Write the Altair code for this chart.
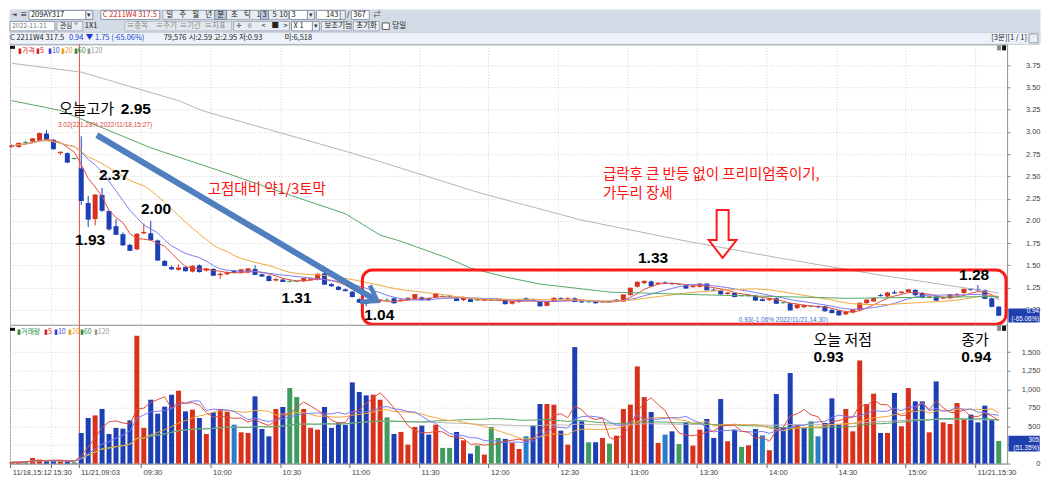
import json
import altair as alt
import pandas as pd

# ------------------------------------------------------------------ data
# 3-minute bars: 11/18 15:12 .. 15:39 (10 bars) then 11/21 09:03 .. 15:39 (133 bars)
opens = [2.83, 2.83, 2.88, 2.89, 2.90, 2.98, 2.91, 2.76, 2.76, 2.70,
         2.59, 2.20, 2.02, 2.29, 2.11, 1.94, 1.85, 1.73, 1.68, 1.86,
         1.86, 1.78, 1.55, 1.48, 1.45, 1.48, 1.43, 1.50, 1.44, 1.46,
         1.39, 1.40, 1.44, 1.42, 1.42, 1.46, 1.40, 1.38, 1.33, 1.34,
         1.32, 1.32, 1.32, 1.34, 1.34, 1.41, 1.29, 1.26, 1.23, 1.205,
         1.12, 1.10, 1.09, 1.10, 1.11, 1.13, 1.10, 1.11, 1.12, 1.14,
         1.13, 1.14, 1.15, 1.155, 1.13, 1.11, 1.12, 1.11, 1.105, 1.11,
         1.11, 1.11, 1.07, 1.09, 1.13, 1.115, 1.093, 1.045, 1.093, 1.13,
         1.12, 1.13, 1.095, 1.09, 1.093, 1.087, 1.09, 1.10, 1.093, 1.168,
         1.26, 1.30, 1.32, 1.29, 1.305, 1.30, 1.29, 1.28, 1.255, 1.26,
         1.295, 1.225, 1.22, 1.18, 1.19, 1.16, 1.155, 1.16, 1.12, 1.11,
         1.13, 1.08, 1.075, 1.02, 1.03, 1.04, 1.04, 1.04, 1.00, 0.99,
         0.95, 0.97, 1.00, 1.075, 1.095, 1.165, 1.15, 1.195, 1.19, 1.20,
         1.225, 1.19, 1.14, 1.15, 1.13, 1.13, 1.165, 1.19, 1.235, 1.23,
         1.224, 1.13, 1.037]
highs = [2.86, 2.88, 2.90, 2.93, 2.99, 3.02, 2.92, 2.78, 2.77, 2.71,
         2.95, 2.28, 2.30, 2.37, 2.12, 2.02, 1.87, 1.74, 1.86, 1.97,
         2.00, 1.79, 1.56, 1.50, 1.51, 1.49, 1.50, 1.51, 1.47, 1.47,
         1.42, 1.43, 1.45, 1.46, 1.47, 1.50, 1.41, 1.39, 1.36, 1.35,
         1.34, 1.33, 1.36, 1.36, 1.41, 1.42, 1.30, 1.27, 1.24, 1.21,
         1.13, 1.11, 1.11, 1.12, 1.13, 1.14, 1.12, 1.14, 1.18, 1.15,
         1.14, 1.19, 1.17, 1.17, 1.14, 1.14, 1.13, 1.13, 1.12, 1.13,
         1.12, 1.12, 1.10, 1.12, 1.14, 1.12, 1.10, 1.10, 1.14, 1.14,
         1.14, 1.14, 1.10, 1.10, 1.10, 1.10, 1.10, 1.12, 1.17, 1.25,
         1.32, 1.33, 1.33, 1.31, 1.32, 1.31, 1.30, 1.29, 1.28, 1.30,
         1.30, 1.24, 1.23, 1.20, 1.20, 1.17, 1.17, 1.17, 1.13, 1.13,
         1.14, 1.09, 1.08, 1.06, 1.06, 1.05, 1.05, 1.05, 1.01, 1.00,
         0.98, 1.01, 1.08, 1.12, 1.14, 1.18, 1.20, 1.22, 1.21, 1.23,
         1.23, 1.20, 1.16, 1.16, 1.15, 1.18, 1.19, 1.24, 1.24, 1.28,
         1.23, 1.14, 1.04]
lows = [2.82, 2.82, 2.87, 2.88, 2.89, 2.91, 2.80, 2.74, 2.65, 2.69,
        2.18, 1.93, 1.95, 2.10, 1.89, 1.84, 1.72, 1.66, 1.67, 1.85,
        1.78, 1.55, 1.49, 1.45, 1.44, 1.43, 1.42, 1.42, 1.43, 1.38,
        1.35, 1.39, 1.41, 1.41, 1.41, 1.39, 1.37, 1.32, 1.32, 1.315,
        1.31, 1.315, 1.315, 1.33, 1.33, 1.28, 1.26, 1.22, 1.21, 1.14,
        1.08, 1.04, 1.08, 1.09, 1.10, 1.07, 1.09, 1.10, 1.11, 1.11,
        1.10, 1.13, 1.14, 1.14, 1.10, 1.10, 1.09, 1.10, 1.10, 1.10,
        1.10, 1.06, 1.06, 1.08, 1.10, 1.10, 1.04, 1.04, 1.09, 1.12,
        1.11, 1.09, 1.08, 1.08, 1.07, 1.08, 1.08, 1.09, 1.09, 1.16,
        1.25, 1.29, 1.26, 1.28, 1.29, 1.28, 1.28, 1.24, 1.25, 1.25,
        1.22, 1.21, 1.17, 1.17, 1.14, 1.15, 1.15, 1.10, 1.10, 1.10,
        1.07, 1.07, 0.99, 1.01, 1.02, 1.03, 1.02, 0.98, 0.96, 0.93,
        0.94, 0.96, 0.99, 1.07, 1.09, 1.15, 1.14, 1.18, 1.18, 1.19,
        1.16, 1.13, 1.13, 1.10, 1.12, 1.12, 1.16, 1.18, 1.21, 1.21,
        1.12, 1.03, 0.94]
closes = [2.84, 2.87, 2.88, 2.92, 2.98, 2.92, 2.81, 2.77, 2.66, 2.70,
          2.23, 2.02, 2.29, 2.12, 1.91, 1.85, 1.73, 1.67, 1.85, 1.87,
          1.79, 1.56, 1.50, 1.46, 1.47, 1.44, 1.49, 1.43, 1.46, 1.39,
          1.40, 1.42, 1.42, 1.45, 1.46, 1.40, 1.38, 1.33, 1.34, 1.32,
          1.32, 1.32, 1.35, 1.35, 1.40, 1.29, 1.27, 1.23, 1.215, 1.15,
          1.087, 1.075, 1.10, 1.11, 1.11, 1.08, 1.11, 1.13, 1.17, 1.12,
          1.115, 1.18, 1.15, 1.155, 1.105, 1.13, 1.095, 1.11, 1.115, 1.11,
          1.11, 1.07, 1.09, 1.11, 1.115, 1.11, 1.045, 1.09, 1.13, 1.125,
          1.125, 1.093, 1.09, 1.09, 1.08, 1.093, 1.09, 1.11, 1.168, 1.243,
          1.31, 1.32, 1.27, 1.30, 1.30, 1.295, 1.29, 1.245, 1.265, 1.29,
          1.225, 1.22, 1.18, 1.19, 1.15, 1.16, 1.165, 1.11, 1.105, 1.12,
          1.075, 1.08, 1.00, 1.055, 1.05, 1.04, 1.035, 0.99, 0.97, 0.945,
          0.97, 1.00, 1.075, 1.11, 1.13, 1.16, 1.19, 1.19, 1.20, 1.225,
          1.17, 1.14, 1.145, 1.11, 1.135, 1.17, 1.17, 1.23, 1.23, 1.225,
          1.13, 1.04, 0.94]
volumes = [18, 18, 31, 76, 54, 31, 40, 31, 31, 18,
           412, 614, 649, 735, 399, 480, 470, 582, 1720, 480,
           860, 672, 766, 927, 981, 703, 726, 614, 399, 690,
           735, 699, 524, 421, 412, 905, 466, 367, 735, 762,
           1017, 896, 735, 480, 457, 762, 480, 555, 520, 1093,
           963, 918, 927, 860, 622, 399, 426, 255, 493, 511,
           390, 524, 211, 211, 426, 313, 134, 242, 121, 493,
           345, 332, 278, 197, 367, 511, 802, 802, 793, 443,
           255, 1568, 569, 287, 287, 345, 269, 376, 735, 793,
           1308, 896, 694, 278, 390, 434, 264, 555, 242, 457,
           600, 345, 869, 300, 457, 224, 246, 466, 380, 180,
           936, 488, 1219, 524, 480, 569, 367, 547, 878, 524,
           735, 434, 1388, 802, 941, 412, 412, 950, 502, 1017,
           838, 838, 421, 1106, 555, 533, 816, 600, 659, 555,
           780, 600, 305]
# volume bar colour class: u = up (red), d = down (blue), n = flat (green), s = steel blue
vol_dir = list("uunuuddudn" "dduddddduu" "ddddududud" "uusuudddud" "nnuuuddddd"
               "dduunduuud" "dunndudnun" "nduusdduud" "uddndunuuu" "uudusdnduu"
               "dddudnudsu" "dddudnsddd" "uuuuududuu" "dduduuuudd" "ddn")

tick_idx = [0, 6, 10, 19, 29, 39, 49, 59, 69, 79, 89, 99, 109, 119, 129, 139]
tick_labels = ["11/18,15:12", "15:30", "11/21,09:03", "09:30", "10:00", "10:30",
               "11:00", "11:30", "12:00", "12:30", "13:00", "13:30", "14:00",
               "14:30", "15:00", "11/21,15:30"]
session_break = [9.74]

# long moving averages (their history is off screen)
ma60_idx = [0, 7, 20, 30, 40, 48, 53, 56, 62.8, 66, 71, 76, 86, 99, 110, 120, 130, 142]
ma60_val = [3.35, 3.24, 2.82, 2.56, 2.29, 2.08, 1.84, 1.77, 1.58, 1.47, 1.37, 1.29, 1.20,
            1.17, 1.15, 1.13, 1.14, 1.15]
ma120_idx = [0, 10, 24, 27.3, 49, 53.2, 67.5, 81.9, 96.2, 110.6, 125, 142]
ma120_val = [3.77, 3.67, 3.35, 3.24, 2.76, 2.66, 2.31, 2.01, 1.785, 1.58, 1.39, 1.19]

price_ticks = [1.0, 1.25, 1.5, 1.75, 2.0, 2.25, 2.5, 2.75, 3.0, 3.25, 3.5, 3.75]
vol_ticks = [0, 250, 500, 750, 1000, 1250, 1500]

# annotations (anchored at bar index / price)
num_text = ["2.95", "2.37", "2.00", "1.93", "1.31", "1.04", "1.33", "1.28"]
num_i = [15.7, 12.55, 18.6, 9.1, 38.8, 50.7, 90.1, 136.3]
num_p = [3.259, 2.513, 2.138, 1.785, 1.135, 0.944, 1.583, 1.392]
red_text = ["고점대비 약1/3토막", "급락후 큰 반등 없이 프리미엄죽이기,", "가두리 장세"]
red_i = [28.2, 85.05, 85.05]
red_p = [2.345, 2.515, 2.298]
vol_note_text = ["오늘 저점", "종가"]
vol_note_i = [115.35, 136.6]
vol_num_text = ["0.93", "0.94"]

# ------------------------------------------------------------------ style
C_UP, C_DN, C_EQ, C_ST = "#d8321d", "#1c3fb4", "#3f9b60", "#2a7dcb"
MA_C = {"5": "#e34b3f", "10": "#7b7bf2", "20": "#f1a83c", "60": "#55a866", "120": "#b5b5b5"}
GRID = "#d2d2d2"
FK = "Noto Sans CJK KR"
FN = "Liberation Sans"
W, H_HDR, H_P, H_V = 999, 35, 281, 139

xs = alt.Scale(domain=[-0.25, 143.2], nice=False, zero=False)
ps = alt.Scale(domain=[0.832, 3.982], nice=False, zero=False)
vs = alt.Scale(domain=[0, 1868], nice=False, zero=False)

tick_vals = [max(t - 0.4, -0.2) for t in tick_idx]
lab_expr = "%s[indexof(%s, round(datum.value + 0.4))]" % (json.dumps(tick_labels), json.dumps(tick_idx))

ax_px = alt.Axis(values=tick_vals, labels=False, ticks=False, domain=False, title=None,
                 grid=True, gridDash=[1, 2], gridColor=GRID, minExtent=0, maxExtent=0)
ax_py = alt.Axis(orient="right", values=price_ticks, format=".2f", title=None,
                 labelAlign="right", labelPadding=30, tickSize=3, labelFontSize=7.5,
                 labelFont=FN, labelColor="#3c3c3c", tickColor="#8a8a8a",
                 domainColor="#9a9a9a", grid=True, gridDash=[1, 2], gridColor=GRID,
                 minExtent=33, maxExtent=33)
ax_vx = alt.Axis(values=tick_vals, labelExpr=lab_expr, title=None, labelAlign="left",
                 labelBaseline="top", labelPadding=1, labelOffset=2, tickSize=4,
                 labelFontSize=7.5, labelFont=FN, labelColor="#3c3c3c", tickColor="#666666",
                 domainColor="#9a9a9a", grid=True, gridDash=[1, 2], gridColor=GRID,
                 labelOverlap=False, labelFlush=False, labelBound=False)
ax_vy = alt.Axis(orient="right", values=vol_ticks,
                 labelExpr="datum.value == 250 ? '' : format(datum.value, ',')", title=None,
                 labelAlign="right", labelPadding=30, tickSize=3, labelFontSize=7.5,
                 labelFont=FN, labelColor="#3c3c3c", tickColor="#8a8a8a",
                 domainColor="#9a9a9a", grid=True, gridDash=[1, 2], gridColor=GRID,
                 minExtent=33, maxExtent=33)


def PX(f):
    return alt.X(f, type="quantitative", scale=xs, axis=ax_px)


def PY(f):
    return alt.Y(f, type="quantitative", scale=ps, axis=ax_py)


def VX(f):
    return alt.X(f, type="quantitative", scale=xs, axis=ax_vx)


def VY(f):
    return alt.Y(f, type="quantitative", scale=vs, axis=ax_vy)


bars = pd.DataFrame({"i": list(range(len(closes))), "o": opens, "h": highs, "l": lows,
                     "c": closes, "v": volumes, "vd": vol_dir})

# ------------------------------------------------------------------ price panel
cb = alt.Chart(bars).transform_calculate(
    xl="datum.i - 0.36", xr="datum.i + 0.36",
    dir="datum.c > datum.o ? 'u' : (datum.c < datum.o ? 'd' : 'n')")
ccol = alt.Color("dir:N", scale=alt.Scale(domain=["u", "d", "n"], range=[C_UP, C_DN, C_EQ]), legend=None)

sep_p = alt.Chart(pd.DataFrame({"i": session_break})).mark_rule(color="#e8504a", strokeWidth=1).encode(x=PX("i"))
wick = cb.mark_rule(strokeWidth=1).encode(x=PX("i"), y=PY("l"), y2=alt.Y2("h"), color=ccol)
body = cb.mark_rect().encode(x=PX("xl"), x2=alt.X2("xr"), y=PY("o"), y2=alt.Y2("c"), color=ccol)
flat = cb.mark_rule(strokeWidth=1).encode(x=PX("xl"), x2=alt.X2("xr"), y=PY("c"), color=ccol)

srt = [alt.SortField("i", order="ascending")]
mab = (alt.Chart(bars)
       .transform_window(m5="mean(c)", frame=[-4, 0], sort=srt)
       .transform_window(m10="mean(c)", frame=[-9, 0], sort=srt)
       .transform_window(m20="mean(c)", frame=[-19, 0], sort=srt))
ma_p = [mab.mark_line(color=MA_C[k], strokeWidth=1).encode(x=PX("i"), y=PY("m" + k)) for k in ["5", "10", "20"]]
ma60 = alt.Chart(pd.DataFrame({"i": ma60_idx, "m": ma60_val})).mark_line(
    color=MA_C["60"], strokeWidth=1).encode(x=PX("i"), y=PY("m"))
ma120 = alt.Chart(pd.DataFrame({"i": ma120_idx, "m": ma120_val})).mark_line(
    color=MA_C["120"], strokeWidth=1).encode(x=PX("i"), y=PY("m"))

# annotations
one = pd.DataFrame({"k": [0]})
box = alt.Chart(pd.DataFrame({"a": [50.45], "b": [143.05], "y1": [1.448], "y2": [0.838]})).mark_rect(
    cornerRadius=10, fillOpacity=0, stroke="#ff1a1a", strokeWidth=3).encode(
    x=PX("a"), x2=alt.X2("b"), y=PY("y1"), y2=alt.Y2("y2"))
arrow = alt.Chart(pd.DataFrame({"i": [12.25, 52.2], "p": [2.962, 1.118]})).mark_line(
    color="#4f7fbe", strokeWidth=6, strokeCap="butt").encode(x=PX("i"), y=PY("p"))
arrow_head = alt.Chart(pd.DataFrame({"i": [52.6], "p": [1.10]})).mark_point(
    shape="M -1.2 -0.8 L 0 0 L -1.2 0.8", filled=False, size=576, strokeWidth=4.5,
    angle=31, color="#4f7fbe", opacity=1).encode(x=PX("i"), y=PY("p"))
down_arrow = alt.Chart(pd.DataFrame({"i": [102.28], "p": [1.852]})).mark_point(
    shape="M -0.25 -1 L 0.25 -1 L 0.25 0.25 L 0.58 0.25 L 0 1 L -0.58 0.25 L -0.25 0.25 Z",
    filled=False, size=2304, strokeWidth=2, color="#ff1a1a", opacity=1).encode(x=PX("i"), y=PY("p"))
nums = alt.Chart(pd.DataFrame({"i": num_i, "p": num_p, "t": num_text})).mark_text(
    align="left", baseline="middle", font=FN, fontSize=15.5, fontWeight="bold", color="#000000").encode(
    x=PX("i"), y=PY("p"), text="t:N")
high_lab = alt.Chart(pd.DataFrame({"i": [6.79], "p": [3.259], "t": ["오늘고가"]})).mark_text(
    align="left", baseline="middle", font=FK, fontSize=15, color="#000000").encode(
    x=PX("i"), y=PY("p"), text="t:N")
reds = alt.Chart(pd.DataFrame({"i": red_i, "p": red_p, "t": red_text})).mark_text(
    align="left", baseline="middle", font=FK, fontSize=14.5, color="#ff1010").encode(
    x=PX("i"), y=PY("p"), text="t:N")
note_hi = alt.Chart(pd.DataFrame({"i": [6.65], "p": [3.08], "t": ["3.02(221.28% 2022/11/18,15:27)"]})).mark_text(
    align="left", baseline="middle", font=FN, fontSize=6.5, color="#e0463a").encode(
    x=PX("i"), y=PY("p"), text="t:N")
note_lo = alt.Chart(pd.DataFrame({"i": [104.6], "p": [0.882], "t": ["0.93(-1.06% 2022/11/21,14:30)"]})).mark_text(
    align="left", baseline="middle", font=FN, fontSize=6.5, color="#3d6fc4").encode(
    x=PX("i"), y=PY("p"), text="t:N")
ptag = alt.Chart(pd.DataFrame({"a": [143.4], "b": [147.9], "y1": [1.016], "y2": [0.857]})).mark_rect(
    color="#1f3fae").encode(x=PX("a"), x2=alt.X2("b"), y=PY("y1"), y2=alt.Y2("y2"))
ptag_t = alt.Chart(pd.DataFrame({"i": [147.8, 147.8], "p": [0.985, 0.893], "t": ["0.94", "(-65.06%)"]})).mark_text(
    align="right", baseline="middle", font=FN, fontSize=6.3, color="#ffffff").encode(
    x=PX("i"), y=PY("p"), text="t:N")

p_leg = alt.Chart(pd.DataFrame({"x": [8, 26, 38, 51, 64, 77],
                                "t": ["▮가격", "▮5", "▮10", "▮20", "▮60", "▮120"],
                                "c": ["#d82020", "#d82020", "#3b3bd8", "#e8a020", "#2f8a3f", "#9a9a9a"]})).mark_text(
    align="left", baseline="middle", font=FK, fontSize=7).encode(
    x=alt.X("x:Q", scale=None), y=alt.value(6.3), text="t:N", color=alt.Color("c:N", scale=None))
p_leg_icon = alt.Chart(one).mark_rect(color="#111111").encode(
    x=alt.value(0), x2=alt.value(5), y=alt.value(1.5), y2=alt.value(4.5))
p_btn = alt.Chart(pd.DataFrame({"a": [989, 994], "b": [993, 998], "c": ["#8a8a8a", "#111111"]})).mark_rect().encode(
    x=alt.X("a:Q", scale=None), x2="b:Q", y=alt.value(1), y2=alt.value(6), color=alt.Color("c:N", scale=None))

price = alt.layer(
    sep_p, wick, body, flat, *ma_p, ma60, ma120,
    box, arrow, arrow_head, down_arrow, nums, high_lab, reds, note_hi, note_lo, ptag, ptag_t,
    p_leg_icon, p_leg, p_btn
).properties(width=W, height=H_P)

# ------------------------------------------------------------------ volume panel
vb = alt.Chart(bars).transform_calculate(xl="datum.i - 0.36", xr="datum.i + 0.36")
vcol = alt.Color("vd:N", scale=alt.Scale(domain=["u", "d", "n", "s"], range=[C_UP, C_DN, C_EQ, C_ST]), legend=None)
sep_v = alt.Chart(pd.DataFrame({"i": session_break})).mark_rule(color="#e8504a", strokeWidth=1).encode(x=VX("i"))
vbars = vb.mark_rect().encode(x=VX("xl"), x2=alt.X2("xr"), y=VY("v"), y2=alt.datum(0), color=vcol)
vmab = (alt.Chart(bars)
        .transform_window(m5="mean(v)", frame=[-4, 0], sort=srt)
        .transform_window(m10="mean(v)", frame=[-9, 0], sort=srt)
        .transform_window(m20="mean(v)", frame=[-19, 0], sort=srt)
        .transform_window(m60="mean(v)", frame=[-59, 0], sort=srt)
        .transform_window(m120="mean(v)", frame=[-119, 0], sort=srt))
ma_v = [vmab.mark_line(color=MA_C[k], strokeWidth=1).encode(x=VX("i"), y=VY("m" + k))
        for k in ["120", "60", "20", "10", "5"]]
v_notes = alt.Chart(pd.DataFrame({"i": vol_note_i, "v": [1667, 1667], "t": vol_note_text})).mark_text(
    align="left", baseline="middle", font=FK, fontSize=15, color="#000000").encode(
    x=VX("i"), y=VY("v"), text="t:N")
v_nums = alt.Chart(pd.DataFrame({"i": vol_note_i, "v": [1431, 1431], "t": vol_num_text})).mark_text(
    align="left", baseline="middle", font=FN, fontSize=15.5, fontWeight="bold", color="#000000").encode(
    x=VX("i"), y=VY("v"), text="t:N")
vtag = alt.Chart(pd.DataFrame({"a": [143.4], "b": [147.9], "y1": [376], "y2": [161]})).mark_rect(
    color="#1f3fae").encode(x=VX("a"), x2=alt.X2("b"), y=VY("y1"), y2=alt.Y2("y2"))
vtag_t = alt.Chart(pd.DataFrame({"i": [147.8, 147.8], "v": [318, 207], "t": ["305", "(51.35%)"]})).mark_text(
    align="right", baseline="middle", font=FN, fontSize=6.3, color="#ffffff").encode(
    x=VX("i"), y=VY("v"), text="t:N")
v_leg = alt.Chart(pd.DataFrame({"x": [7, 34, 44, 58, 70, 84],
                                "t": ["▮거래량", "▮5", "▮10", "▮20", "▮60", "▮120"],
                                "c": ["#2f8a3f", "#d82020", "#3b3bd8", "#e8a020", "#2f8a3f", "#9a9a9a"]})).mark_text(
    align="left", baseline="middle", font=FK, fontSize=7).encode(
    x=alt.X("x:Q", scale=None), y=alt.value(7.5), text="t:N", color=alt.Color("c:N", scale=None))
v_leg_icon = alt.Chart(one).mark_rect(color="#111111").encode(
    x=alt.value(0), x2=alt.value(5), y=alt.value(3), y2=alt.value(6))
v_btn = alt.Chart(pd.DataFrame({"a": [989, 994], "b": [993, 998], "c": ["#8a8a8a", "#111111"]})).mark_rect().encode(
    x=alt.X("a:Q", scale=None), x2="b:Q", y=alt.value(1), y2=alt.value(6), color=alt.Color("c:N", scale=None))

volume = alt.layer(sep_v, vbars, *ma_v, v_notes, v_nums, vtag, vtag_t, v_leg_icon, v_leg, v_btn
                   ).properties(width=W, height=H_V)

# ------------------------------------------------------------------ header (toolbar + info line)
hdr_rects = pd.DataFrame([
    (0, 1032, 0.5, 23, "#d3dbe7", "#d3dbe7"),
    (0, 1032, 23, 35, "#edf1fa", "#c9d0dc"),
    (19, 76, 1, 10, "#ffffff", "#8c97a8"),
    (76, 83, 1, 10, "#e9edf3", "#8c97a8"),
    (91, 150, 1, 10, "#ffffff", "#8c97a8"),
    (153, 279, 1, 10, "#e9edf3", "#a2abb9"),
    (205, 217, 1, 10, "#b8c5d8", "#7d8aa0"),
    (251, 259, 1, 10, "#b8c5d8", "#7d8aa0"),
    (280, 298, 1, 10, "#ffffff", "#8c97a8"),
    (298, 305, 1, 10, "#e9edf3", "#8c97a8"),
    (307, 331, 1, 10, "#ffffff", "#8c97a8"),
    (331, 336, 1, 10, "#e9edf3", "#8c97a8"),
    (342, 360, 1, 10, "#ffffff", "#8c97a8"),
    (0, 45, 12, 21.5, "#ffffff", "#8c97a8"),
    (47, 73, 12, 21.5, "#e9edf3", "#a2abb9"),
    (115, 222, 12, 21.5, "#e4e8ee", "#b4bcc8"),
    (224, 280, 12, 21.5, "#e9edf3", "#a2abb9"),
    (282, 303, 12, 21.5, "#ffffff", "#8c97a8"),
    (303, 310, 12, 21.5, "#e9edf3", "#8c97a8"),
    (312, 342, 12, 21.5, "#e9edf3", "#a2abb9"),
    (344, 370, 12, 21.5, "#e9edf3", "#a2abb9"),
    (373, 380, 13.5, 20, "#ffffff", "#555555"),
    (1021, 1030, 24.5, 33.5, "#e9edf3", "#8c97a8"),
], columns=["x1", "x2", "y1", "y2", "f", "s"])
hdr_left = pd.DataFrame([
    (1, 5.5, "⇥", "#222222"), (10, 5.5, "≡", "#222222"),
    (21, 5.5, "209AY317", "#111111"), (77.5, 5.5, "▾", "#333333"),
    (93, 5.5, "C 2211W4 317.5", "#d01818"), (282, 5.5, "3", "#111111"),
    (299.5, 5.5, "▾", "#333333"), (337.5, 5.5, "/", "#111111"),
    (344, 5.5, "367", "#111111"), (364, 5.5, "⇄", "#555555"),
    (75, 17, "1X1", "#222222"), (117, 17, "≡종목", "#8a8a8a"), (146, 17, "≡주기", "#8a8a8a"),
    (170, 17, "≡기간", "#8a8a8a"), (195, 17, "≡지표", "#8a8a8a"), (226, 17, "✛", "#444444"),
    (238, 17, "₩", "#999999"), (252, 17, "<", "#222222"), (262, 17, "■", "#222222"),
    (274, 17, ">", "#222222"), (284, 17, "X 1", "#222222"), (304.5, 17, "▾", "#333333"),
    (315, 17, "보조기능", "#222222"), (347, 17, "초기화", "#222222"), (383, 17, "당일", "#222222"),
    (0, 29, "C 2211W4 317.5", "#222222"), (59, 29, "0.94", "#1a3fd0"),
    (76, 29, "▼ 1.75 (-65.06%)", "#1a3fd0"), (154, 29, "79,576", "#222222"),
    (179, 29, "시:2.59 고:2.95 저:0.93", "#222222"), (275, 29, "미:6,518", "#222222"),
], columns=["x", "y", "t", "c"])
hdr_small = pd.DataFrame([(2, 17, "2022-11-21", "#777777"), (50, 17, "관심 ˇ", "#222222")],
                         columns=["x", "y", "t", "c"])
hdr_center = pd.DataFrame([(x, 5.5, t) for x, t in zip(
    [160, 173, 186, 199, 211, 225, 238, 249, 255, 265, 274],
    ["일", "주", "월", "년", "분", "초", "틱", "1", "3", "5", "10"])], columns=["x", "y", "t"])
hdr_right = pd.DataFrame([(329, 5.5, "143"), (1019, 29, "[3분][1 / 1]")], columns=["x", "y", "t"])

h_rect = alt.Chart(hdr_rects).mark_rect(strokeWidth=1).encode(
    x=alt.X("x1:Q", scale=None, axis=None), x2="x2:Q",
    y=alt.Y("y1:Q", scale=None, axis=None), y2="y2:Q",
    fill=alt.Fill("f:N", scale=None), stroke=alt.Stroke("s:N", scale=None))
h_tl = alt.Chart(hdr_left).mark_text(align="left", baseline="middle", font=FK, fontSize=7.5).encode(
    x=alt.X("x:Q", scale=None, axis=None), y=alt.Y("y:Q", scale=None, axis=None),
    text="t:N", color=alt.Color("c:N", scale=None))
h_ts = alt.Chart(hdr_small).mark_text(align="left", baseline="middle", font=FK, fontSize=6.8).encode(
    x=alt.X("x:Q", scale=None, axis=None), y=alt.Y("y:Q", scale=None, axis=None),
    text="t:N", color=alt.Color("c:N", scale=None))
h_tc = alt.Chart(hdr_center).mark_text(align="center", baseline="middle", font=FK, fontSize=7.5, color="#222222").encode(
    x=alt.X("x:Q", scale=None, axis=None), y=alt.Y("y:Q", scale=None, axis=None), text="t:N")
h_tr = alt.Chart(hdr_right).mark_text(align="right", baseline="middle", font=FK, fontSize=7.5, color="#222222").encode(
    x=alt.X("x:Q", scale=None, axis=None), y=alt.Y("y:Q", scale=None, axis=None), text="t:N")
header = alt.layer(h_rect, h_tl, h_ts, h_tc, h_tr).properties(
    width=1032, height=H_HDR, view=alt.ViewBackground(stroke="transparent"))

chart = (alt.vconcat(header, price, volume, spacing=0, bounds="flush")
         .resolve_scale(x="independent", y="independent", color="independent")
         .properties(padding=0, background="#ffffff")
         .configure_view(stroke="#a4a4a4", strokeWidth=1))

chart.save("out.html", embed_options={"renderer": "svg", "actions": False})
